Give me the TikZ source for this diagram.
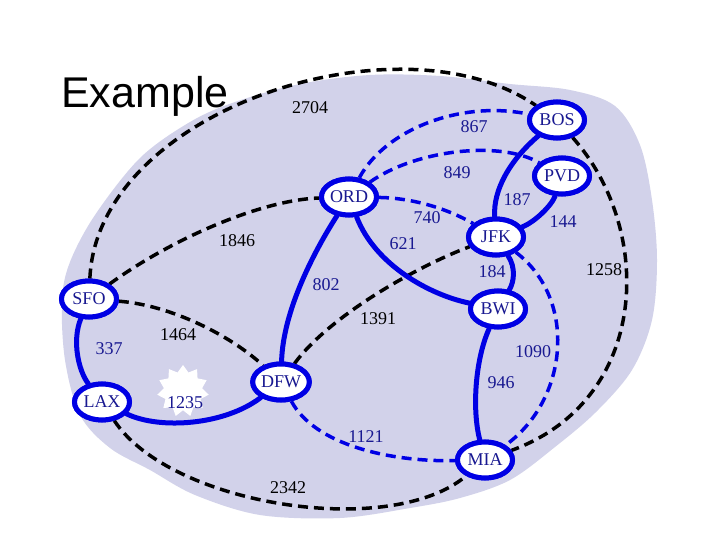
\documentclass[tikz,border=0pt]{standalone}
\usepackage{fontspec}
\setmainfont{Liberation Serif}
\newfontfamily\exfont{Liberation Sans}
\usetikzlibrary{shapes.geometric}
\definecolor{blobc}{RGB}{210,210,234}
\definecolor{nodeblue}{RGB}{0,0,228}
\definecolor{navy}{RGB}{25,25,145}
\begin{document}
\begin{tikzpicture}[x=1pt,y=-1pt,
  city/.style={ellipse,draw=nodeblue,line width=5pt,fill=white,minimum width=55pt,minimum height=36pt,inner sep=0pt,text=navy,font=\fontsize{18}{18}\selectfont},
  road/.style={draw=nodeblue,line width=5pt,line cap=round},
  bluedash/.style={draw=nodeblue,line width=3.5pt,dash pattern=on 10pt off 6pt},
  blackdash/.style={draw=black,line width=3.5pt,dash pattern=on 10pt off 6pt},
  bluelab/.style={text=navy,font=\fontsize{18}{18}\selectfont,inner sep=0pt},
  blacklab/.style={text=black,font=\fontsize{18}{18}\selectfont,inner sep=0pt}]
\useasboundingbox (0,0) rectangle (720,540);
\fill[white] (0,0) rectangle (720,540);
% background blob
\fill[blobc] plot[smooth cycle, tension=0.55] coordinates {
 (62,300) (70,262) (95,215) (140,158) (190,122) (235,102) (300,84) (370,75)
 (440,76) (510,84) (570,90) (615,106) (640,145) (652,200) (657,260) (652,320)
 (632,370) (596,412) (555,447) (510,480) (460,498) (410,508) (340,518) (260,515)
 (195,495) (150,470) (110,448) (80,415) (65,360)};
% title
\node[anchor=base west,inner sep=0pt,font=\exfont\fontsize{43}{43}\selectfont] (title) at (61,108) {Example};
% cities
\node[city] (BOS) at (557,120) {BOS};
\node[city] (PVD) at (562,176) {PVD};
\node[city] (ORD) at (349,197) {ORD};
\node[city] (JFK) at (496,237) {JFK};
\node[city] (BWI) at (498,309) {BWI};
\node[city] (SFO) at (89,299) {SFO};
\node[city] (LAX) at (102,402) {LAX};
\node[city] (DFW) at (281,382) {DFW};
\node[city] (MIA) at (485,460) {MIA};
% black dashed edges
\path[blackdash] (SFO) .. controls (97,110) and (400,12) .. (BOS);
\path[blackdash] (SFO) .. controls (170,240) and (260,200) .. (ORD);
\path[blackdash] (SFO) .. controls (170,305) and (230,335) .. (DFW);
\path[blackdash] (DFW) .. controls (330,315) and (420,265) .. (JFK);
\path[blackdash] (LAX) .. controls (170,505) and (390,540) .. (MIA);
\path[blackdash] (BOS) .. controls (655,230) and (650,400) .. (MIA);
% blue dashed edges
\path[bluedash] (ORD) .. controls (385,130) and (460,100) .. (BOS);
\path[bluedash] (ORD) .. controls (415,150) and (500,140) .. (PVD);
\path[bluedash] (ORD) .. controls (415,198) and (450,210) .. (JFK);
\path[bluedash] (DFW) .. controls (315,445) and (390,462) .. (MIA);
\path[bluedash] (JFK) .. controls (578,300) and (568,400) .. (MIA);
% blue solid edges
\path[road] (BOS) .. controls (510,160) and (493,190) .. (JFK);
\path[road] (PVD) .. controls (552,205) and (535,222) .. (JFK);
\path[road] (ORD) .. controls (315,250) and (283,310) .. (DFW);
\path[road] (ORD) .. controls (375,265) and (430,295) .. (BWI);
\path[road] (JFK) .. controls (516,268) and (514,282) .. (BWI);
\path[road] (SFO) .. controls (72,340) and (78,370) .. (LAX);
\path[road] (LAX) .. controls (160,430) and (225,425) .. (DFW);
\path[road] (BWI) .. controls (475,360) and (472,410) .. (MIA);
% cities drawn again above the connectors
\foreach \c/\p in {BOS/{(557,120)},PVD/{(562,176)},ORD/{(349,197)},JFK/{(496,237)},BWI/{(498,309)},SFO/{(89,299)},LAX/{(102,402)},DFW/{(281,382)},MIA/{(485,460)}}
  \node[city] at \p {\c};
% burst
\node[star,star points=11,star point ratio=1.35,fill=white,minimum size=52pt,inner sep=0pt] (burst) at (183,391) {};
% labels
\node[blacklab] (l2704) at (310,108) {2704};
\node[bluelab] (l867) at (474,127) {867};
\node[bluelab] (l849) at (457,173) {849};
\node[bluelab] (l187) at (517,200) {187};
\node[bluelab] (l144) at (563,222) {144};
\node[bluelab] (l740) at (427,218) {740};
\node[bluelab] (l621) at (403,244) {621};
\node[blacklab] (l1846) at (237,241) {1846};
\node[bluelab] (l184) at (492,272) {184};
\node[blacklab] (l1258) at (604,270) {1258};
\node[bluelab] (l802) at (326,285) {802};
\node[blacklab] (l1391) at (378,319) {1391};
\node[bluelab] (l337) at (109,349) {337};
\node[blacklab] (l1464) at (178,335) {1464};
\node[bluelab] (l1090) at (533,352) {1090};
\node[bluelab] (l946) at (501,383) {946};
\node[bluelab] (l1235) at (185,403) {1235};
\node[bluelab] (l1121) at (366,437) {1121};
\node[blacklab] (l2342) at (288,488) {2342};
\end{tikzpicture}
\end{document}
